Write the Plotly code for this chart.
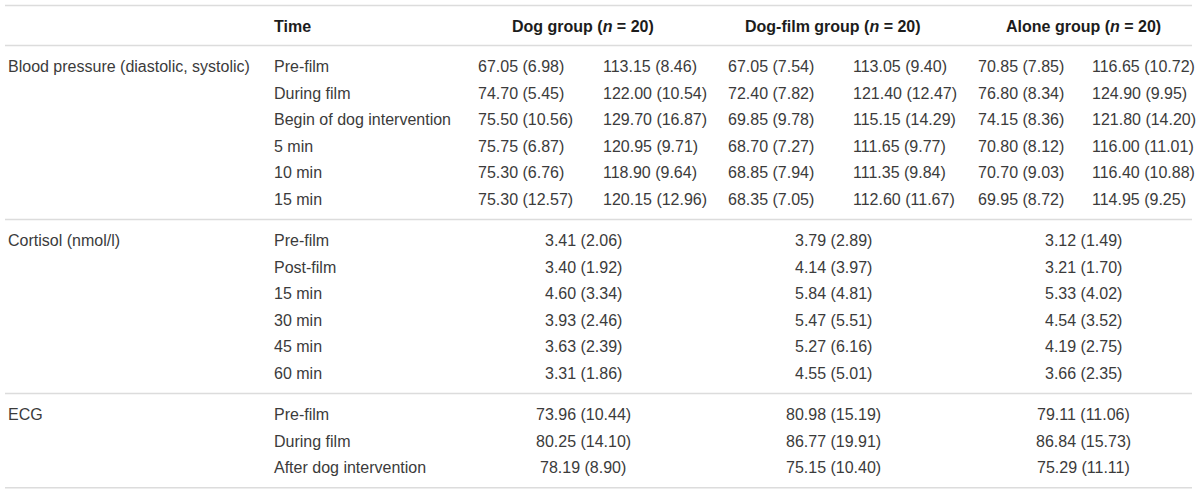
import plotly.graph_objects as go

# ---- table content ----
group_names = ["Dog group", "Dog-film group", "Alone group"]
group_n = [20, 20, 20]

bp_label = "Blood pressure (diastolic, systolic)"
bp_times = ["Pre-film", "During film", "Begin of dog intervention", "5 min", "10 min", "15 min"]
dog_dia_mean = [67.05, 74.70, 75.50, 75.75, 75.30, 75.30]
dog_dia_sd = [6.98, 5.45, 10.56, 6.87, 6.76, 12.57]
dog_sys_mean = [113.15, 122.00, 129.70, 120.95, 118.90, 120.15]
dog_sys_sd = [8.46, 10.54, 16.87, 9.71, 9.64, 12.96]
film_dia_mean = [67.05, 72.40, 69.85, 68.70, 68.85, 68.35]
film_dia_sd = [7.54, 7.82, 9.78, 7.27, 7.94, 7.05]
film_sys_mean = [113.05, 121.40, 115.15, 111.65, 111.35, 112.60]
film_sys_sd = [9.40, 12.47, 14.29, 9.77, 9.84, 11.67]
alone_dia_mean = [70.85, 76.80, 74.15, 70.80, 70.70, 69.95]
alone_dia_sd = [7.85, 8.34, 8.36, 8.12, 9.03, 8.72]
alone_sys_mean = [116.65, 124.90, 121.80, 116.00, 116.40, 114.95]
alone_sys_sd = [10.72, 9.95, 14.20, 11.01, 10.88, 9.25]

cort_label = "Cortisol (nmol/l)"
cort_times = ["Pre-film", "Post-film", "15 min", "30 min", "45 min", "60 min"]
dog_cort_mean = [3.41, 3.40, 4.60, 3.93, 3.63, 3.31]
dog_cort_sd = [2.06, 1.92, 3.34, 2.46, 2.39, 1.86]
film_cort_mean = [3.79, 4.14, 5.84, 5.47, 5.27, 4.55]
film_cort_sd = [2.89, 3.97, 4.81, 5.51, 6.16, 5.01]
alone_cort_mean = [3.12, 3.21, 5.33, 4.54, 4.19, 3.66]
alone_cort_sd = [1.49, 1.70, 4.02, 3.52, 2.75, 2.35]

ecg_label = "ECG"
ecg_times = ["Pre-film", "During film", "After dog intervention"]
dog_ecg_mean = [73.96, 80.25, 78.19]
dog_ecg_sd = [10.44, 14.10, 8.90]
film_ecg_mean = [80.98, 86.77, 75.15]
film_ecg_sd = [15.19, 19.91, 10.40]
alone_ecg_mean = [79.11, 86.84, 75.29]
alone_ecg_sd = [11.06, 15.73, 11.11]

# ---- layout of the table (pixel units on the axes) ----
W, H = 1200, 493
X_MEASURE = 6
X_TIME = 272
X_PAIR = [(476, 601), (726, 851), (976, 1090)]  # diastolic / systolic starts
X_CENTER = [583, 833, 1083]
X_LINE = (5, 1192)
Y_TOP_LINE = 5.5
Y_HEADER = 26
Y_HEADER_LINE = 45.5
ROW_H = 26.6
PAD_TOP = 21
PAD_BOTTOM = 20

FONT = "Liberation Sans, Arial, sans-serif"
BODY = "#3b3b3b"
HEAD = "#1c1c1c"
RULE = "#dcdcdc"


def fmt(m, s):
    return f"{m:.2f} ({s:.2f})"


annotations = []
shapes = []


def text(x, y, t, anchor="left", color=BODY, bold=False):
    annotations.append(dict(
        x=x, y=y, xref="x", yref="y", text=f"<b>{t}</b>" if bold else t,
        showarrow=False, xanchor=anchor, yanchor="middle",
        font=dict(family=FONT, size=16, color=color),
    ))


def rule(y):
    shapes.append(dict(type="line", xref="x", yref="y", x0=X_LINE[0], x1=X_LINE[1],
                       y0=y, y1=y, line=dict(color=RULE, width=1.6)))


rule(Y_TOP_LINE)
text(X_TIME, Y_HEADER, "Time", color=HEAD, bold=True)
for g, name in enumerate(group_names):
    text(X_CENTER[g], Y_HEADER, f"{name} (<i>n</i> = {group_n[g]})", anchor="center",
         color=HEAD, bold=True)
rule(Y_HEADER_LINE)

sections = [
    (bp_label, bp_times, [
        [(dog_dia_mean, dog_dia_sd), (dog_sys_mean, dog_sys_sd)],
        [(film_dia_mean, film_dia_sd), (film_sys_mean, film_sys_sd)],
        [(alone_dia_mean, alone_dia_sd), (alone_sys_mean, alone_sys_sd)],
    ]),
    (cort_label, cort_times, [
        [(dog_cort_mean, dog_cort_sd)],
        [(film_cort_mean, film_cort_sd)],
        [(alone_cort_mean, alone_cort_sd)],
    ]),
    (ecg_label, ecg_times, [
        [(dog_ecg_mean, dog_ecg_sd)],
        [(film_ecg_mean, film_ecg_sd)],
        [(alone_ecg_mean, alone_ecg_sd)],
    ]),
]

y_line = Y_HEADER_LINE
for label, times, cols in sections:
    y0 = y_line + PAD_TOP
    text(X_MEASURE, y0, label)
    for i, t in enumerate(times):
        y = y0 + i * ROW_H
        text(X_TIME, y, t)
        for g, series in enumerate(cols):
            if len(series) == 2:
                for k, (m, s) in enumerate(series):
                    text(X_PAIR[g][k], y, fmt(m[i], s[i]))
            else:
                m, s = series[0]
                text(X_CENTER[g], y, fmt(m[i], s[i]), anchor="center")
    y_line = y0 + (len(times) - 1) * ROW_H + PAD_BOTTOM
    rule(y_line)

fig = go.Figure()
fig.add_trace(go.Scatter(x=[0, W], y=[0, H], mode="markers",
                         marker=dict(opacity=0), hoverinfo="skip", showlegend=False))
fig.update_layout(
    width=W, height=H, margin=dict(l=0, r=0, t=0, b=0),
    paper_bgcolor="white", plot_bgcolor="white",
    xaxis=dict(range=[0, W], visible=False, fixedrange=True),
    yaxis=dict(range=[H, 0], visible=False, fixedrange=True),
    annotations=annotations, shapes=shapes, showlegend=False,
)
# drop the browser's default page margin so the figure sits at the window origin
fig.write_html("out.html", config={"displayModeBar": False},
               post_script="document.body.style.margin = '0'; document.body.style.overflow = 'hidden';")
